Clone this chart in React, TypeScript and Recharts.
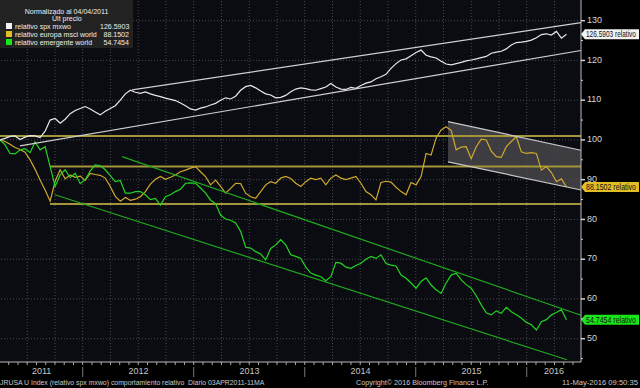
import { ComposedChart, Line, Area, XAxis, YAxis, ReferenceLine, ReferenceDot, CartesianGrid } from 'recharts';

const FONT = '"Liberation Sans Narrow", "Arial Narrow", "Liberation Sans", sans-serif';

// relative performance, normalised to 100 on 04/04/2011, evenly sampled up to 11/05/2016
const spx = [
  100.0, 100.4, 100.9, 101.0, 100.1, 100.7, 101.1, 101.0, 100.6, 102.2,
  105.0, 105.4, 104.2, 105.2, 106.6, 107.4, 107.9, 108.4, 107.8, 107.0,
  106.3, 107.2, 107.9, 108.6, 110.0, 111.6, 112.5, 112.0, 111.7, 112.1,
  111.6, 111.2, 110.9, 110.5, 110.2, 109.9, 109.3, 108.6, 107.8, 107.5,
  108.0, 108.3, 108.8, 109.2, 110.0, 110.6, 110.3, 111.0, 112.5, 113.4,
  113.7, 113.1, 112.3, 111.6, 111.3, 110.6, 110.7, 111.2, 112.1, 112.8,
  113.1, 112.9, 112.6, 112.5, 112.9, 113.3, 114.2, 113.3, 112.8, 112.7,
  113.2, 113.0, 113.7, 114.3, 114.6, 115.4, 115.9, 116.5, 118.0, 119.2,
  120.1, 120.4, 121.2, 122.0, 122.6, 121.3, 120.9, 120.6, 119.8, 119.1,
  118.9, 119.2, 119.5, 119.9, 120.1, 120.4, 120.7, 121.0, 121.8, 122.1,
  122.3, 122.9, 123.9, 124.5, 124.6, 124.8, 125.1, 125.7, 126.5, 126.7,
  126.4, 127.3, 125.6, 126.5903,
];

const europa = [
  100.0, 99.6, 98.9, 98.1, 97.6, 96.9, 95.0, 92.6, 89.9, 87.4,
  84.6, 89.6, 92.5, 90.2, 91.2, 90.6, 90.9, 89.8, 91.6, 91.3,
  91.1, 90.4, 88.3, 85.8, 84.6, 85.5, 84.8, 85.1, 85.7, 87.0,
  88.9, 90.1, 90.8, 90.1, 90.6, 91.2, 92.0, 92.4, 92.9, 93.3,
  92.0, 90.8, 88.7, 89.9, 88.3, 86.6, 87.8, 89.1, 89.0, 86.6,
  85.7, 85.3, 87.0, 88.7, 89.5, 89.1, 90.4, 90.8, 90.3, 89.1,
  88.3, 89.5, 90.4, 90.0, 90.4, 88.7, 90.4, 91.2, 90.4, 90.0,
  90.4, 90.8, 89.1, 87.0, 86.2, 84.9, 89.3, 89.6, 89.4, 88.1,
  87.0, 86.2, 89.3, 88.7, 90.8, 96.6, 96.2, 100.5, 102.5, 103.3,
  102.4, 97.5, 98.2, 98.3, 95.3, 98.3, 100.2, 100.0, 97.2, 95.8,
  95.6, 98.3, 99.6, 100.8, 97.0, 96.6, 96.8, 96.6, 92.4, 93.3,
  91.8, 89.5, 90.2, 88.1502,
];

const emergente = [
  100.0, 98.8, 96.6, 96.5, 97.5, 97.8, 96.8, 99.5, 97.5, 98.3,
  93.3, 88.3, 91.2, 92.5, 90.5, 91.6, 89.0, 90.0, 92.2, 93.7,
  93.5, 92.5, 91.0, 89.5, 89.8, 86.6, 86.6, 87.0, 87.0, 86.2,
  85.0, 85.3, 83.6, 85.7, 86.2, 87.0, 87.6, 89.1, 89.2, 89.1,
  87.9, 86.6, 84.9, 84.0, 81.1, 80.1, 79.8, 79.1, 77.0, 73.0,
  72.8, 71.9, 71.3, 69.8, 72.7, 73.6, 74.9, 73.6, 71.1, 70.7,
  70.2, 68.0, 66.5, 66.0, 65.6, 64.6, 65.6, 69.2, 69.0, 68.0,
  67.7, 68.4, 69.0, 70.0, 70.7, 70.2, 71.1, 68.9, 68.5, 68.3,
  66.0, 65.2, 64.0, 62.7, 64.4, 65.3, 63.5, 62.3, 61.4, 64.0,
  66.0, 66.5, 64.8, 63.6, 62.7, 60.8, 58.5, 56.5, 56.0, 57.0,
  56.4, 57.9, 56.8, 56.0, 55.2, 54.1, 53.5, 52.2, 54.3, 54.8,
  56.0, 56.6, 57.3, 54.7454,
];

const seriesKeys = ['spx', 'europa', 'emergente'];
const seriesNames = ['relativo spx mxwo', 'relativo europa msci world', 'relativo emergente world'];
const lastValues = ['126.5903', '88.1502', '54.7454'];
const tagTexts = ['126.5903 relativo', '88.1502  relativo', '54.7454  relativo'];
const seriesColors = ['#e8e8e8', '#cfa92e', '#22d422'];
const tagColors = ['#f2f2f2', '#e3bd24', '#19e619'];

const firstDay = 2011.2548; // 04/04/2011
const lastDay = 2016.358; // 11/05/2016
const xMax = 2016.489;
const yMin = 44.14;
const yMax = 135.2;

const yearLabels = [2011, 2012, 2013, 2014, 2015, 2016];
const yLabels = [50, 60, 70, 80, 90, 100, 110, 120, 130];

// lines drawn on the terminal, as [date, value] end points
const spxChannel = [
  [[2012.444, 112.6], [xMax, 129.5]],
  [[2011.435, 98.5], [xMax, 122.5]],
];
const emergenteChannel = [
  [[2012.354, 95.8], [xMax, 55.9]],
  [[2011.75, 86.2], [2016.363, 44.7]],
];
const europaLevels = [
  { from: firstDay, y: 101.0 },
  { from: 2011.705, y: 93.3 },
  { from: 2011.705, y: 83.9 },
];
const europaBand = [
  { t: 2015.291, band: [94.5, 104.6] },
  { t: xMax, band: [87.4, 97.4] },
];

const rows = spx.map((v, i) => ({
  t: firstDay + (i * (lastDay - firstDay)) / (spx.length - 1),
  spx: v,
  europa: europa[i],
  emergente: emergente[i],
}));

const monthTicks: number[] = [];
const quarterLines: number[] = [];
for (let y = 2011; y <= 2016; y++) {
  for (let m = 0; m < 12; m++) {
    const t = y + m / 12;
    if (t <= firstDay || t >= xMax) continue;
    monthTicks.push(t);
    if (m % 3 === 0) quarterLines.push(t);
  }
}
const labelAt = new Map<number, string>();
yearLabels.forEach(y => {
  const mid = (Math.max(y, firstDay) + Math.min(y + 1, xMax)) / 2 + 0.002;
  labelAt.set(mid, String(y));
});
const xTicks = [...monthTicks, ...labelAt.keys()];
const yTicks: number[] = [];
for (let v = 45; v <= 130; v += 5) yTicks.push(v);

function XTick(props: any) {
  const { x, y, payload } = props;
  const v = payload.value;
  const label = labelAt.get(v);
  if (label) {
    return (
      <text x={x} y={y + 12} textAnchor="middle" fill="#c4c4c4" fontSize={9} fontFamily={FONT}>
        {label}
      </text>
    );
  }
  const jan = Math.abs(v - Math.round(v)) < 1e-6;
  return (
    <g>
      <line x1={x} x2={x} y1={y} y2={y + 3} stroke="#aaa" />
      {jan && <line x1={x} x2={x} y1={y + 5} y2={y + 15} stroke="#777" />}
    </g>
  );
}

function YTick(props: any) {
  const { x, y, payload } = props;
  const v = payload.value;
  const major = v % 10 === 0;
  return (
    <g>
      <line x1={x} x2={x + (major ? 4 : 2)} y1={y} y2={y} stroke="#d0d0d0" strokeWidth={major ? 1.5 : 1} />
      {major && (
        <text x={x + 6} y={y - 1} dy="0.35em" fill="#d6d6d6" fontSize={9} fontFamily={FONT}>
          {v}
        </text>
      )}
    </g>
  );
}

function Tag({ cx, cy, text, bg }: any) {
  return (
    <g>
      <path d={`M${cx} ${cy} L${cx + 4} ${cy - 5} L${cx + 58} ${cy - 5} L${cx + 58} ${cy + 5} L${cx + 4} ${cy + 5} Z`} fill={bg} />
      <text x={cx + 5} y={cy} dy="0.35em" fontSize={8.5} fill="#111" fontFamily={FONT} textLength={50} lengthAdjust="spacingAndGlyphs">
        {text}
      </text>
    </g>
  );
}

const narrow = (origin: string, k = 0.84): React.CSSProperties => ({
  display: 'inline-block',
  transform: `scaleX(${k})`,
  transformOrigin: origin,
});

const legendTops = [7.5, 14.8, 22.5, 30.5, 38.8];

function App() {
  return (
    <div style={{ position: 'relative', width: 640, height: 388, background: '#000', overflow: 'hidden' }}>
      <style>{'body{margin:0;background:#000}'}</style>
      <ComposedChart width={640} height={388} data={rows} margin={{ top: 0, right: 0, bottom: 0, left: 0 }}>
        <CartesianGrid horizontal={false} vertical={false} fill="#0b0b12" />
        <XAxis
          type="number"
          dataKey="t"
          domain={[firstDay, xMax]}
          ticks={xTicks}
          interval={0}
          tick={<XTick />}
          tickLine={false}
          tickSize={0}
          tickMargin={0}
          axisLine={{ stroke: '#bbb' }}
          height={26}
          allowDataOverflow
        />
        <YAxis
          orientation="right"
          type="number"
          domain={[yMin, yMax]}
          ticks={yTicks}
          interval={0}
          tick={<YTick />}
          tickLine={false}
          tickSize={0}
          tickMargin={0}
          axisLine={{ stroke: '#bbb' }}
          width={59}
          allowDataOverflow
        />
        {yLabels.map(v => (
          <ReferenceLine key={'h' + v} y={v} stroke="#4a4a52" strokeDasharray="1 2" />
        ))}
        {quarterLines.map(t => (
          <ReferenceLine key={'v' + t} x={t} stroke="#4a4a52" strokeDasharray="1 2" />
        ))}
        <Area
          data={europaBand}
          dataKey="band"
          type="linear"
          fill="#9a9a9a"
          fillOpacity={0.35}
          stroke="none"
          isAnimationActive={false}
        />
        {europaLevels.map((l, i) => (
          <ReferenceLine key={'l' + i} segment={[{ x: l.from, y: l.y }, { x: xMax, y: l.y }]} stroke="#a3963a" strokeWidth={2} />
        ))}
        <Line dataKey="europa" stroke={seriesColors[1]} strokeWidth={1.2} dot={false} isAnimationActive={false} />
        <Line dataKey="emergente" stroke={seriesColors[2]} strokeWidth={1.2} dot={false} isAnimationActive={false} />
        <Line dataKey="spx" stroke={seriesColors[0]} strokeWidth={1.2} dot={false} isAnimationActive={false} />
        {[0, 1].map(k => (
          <ReferenceLine
            key={'b' + k}
            segment={[{ x: europaBand[0].t, y: europaBand[0].band[k] }, { x: europaBand[1].t, y: europaBand[1].band[k] }]}
            stroke="#c8c8c8"
            strokeWidth={1.2}
          />
        ))}
        {spxChannel.map((s, i) => (
          <ReferenceLine key={'s' + i} segment={[{ x: s[0][0], y: s[0][1] }, { x: s[1][0], y: s[1][1] }]} stroke="#cfcfcf" strokeWidth={1.2} />
        ))}
        {emergenteChannel.map((s, i) => (
          <ReferenceLine key={'e' + i} segment={[{ x: s[0][0], y: s[0][1] }, { x: s[1][0], y: s[1][1] }]} stroke="#1fa81f" strokeWidth={1.2} />
        ))}
        {seriesKeys.map((k, i) => (
          <ReferenceDot
            key={'tag' + k}
            x={xMax}
            y={Number(lastValues[i])}
            ifOverflow="visible"
            shape={(p: any) => <Tag cx={p.cx} cy={p.cy} bg={tagColors[i]} text={tagTexts[i]} />}
          />
        ))}
      </ComposedChart>

      {/* legend box */}
      <div style={{ position: 'absolute', left: 0, top: 0, width: 133, height: 48, background: 'rgba(36,36,36,0.95)', fontFamily: FONT, fontSize: 8, color: '#eee', lineHeight: '7px', whiteSpace: 'nowrap' }}>
        <div style={{ position: 'absolute', top: legendTops[0], width: '100%', textAlign: 'center' }}>
          <span style={narrow('center', 0.88)}>Normalizado al 04/04/2011</span>
        </div>
        <div style={{ position: 'absolute', top: legendTops[1], width: '100%', textAlign: 'center' }}>
          <span style={narrow('center', 0.88)}>Últ precio</span>
        </div>
        {seriesNames.map((n, i) => (
          <div key={n} style={{ position: 'absolute', top: legendTops[i + 2], left: 0, width: 133, height: 7 }}>
            <span style={{ position: 'absolute', left: 6, top: 0.5, width: 6, height: 6, background: tagColors[i] }} />
            <span style={{ position: 'absolute', left: 15, ...narrow('left', 0.88) }}>{n}</span>
            <span style={{ position: 'absolute', right: 4, ...narrow('right', 0.88) }}>{lastValues[i]}</span>
          </div>
        ))}
      </div>

      {/* footer */}
      <div style={{ position: 'absolute', left: 0, top: 377, width: 640, height: 11, fontFamily: FONT, fontSize: 8, color: '#c8c8c8', lineHeight: '11px', whiteSpace: 'pre' }}>
        <span style={{ position: 'absolute', left: 0, ...narrow('left', 0.86) }}>JRUSA U Index (relativo spx mxwo) comportamiento relativo  Diario 03APR2011-11MA</span>
        <span style={{ position: 'absolute', left: 356, ...narrow('left', 0.9) }}>Copyright© 2016 Bloomberg Finance L.P.</span>
        <span style={{ position: 'absolute', right: 2, ...narrow('right', 0.95) }}>11-May-2016 09:50:35</span>
      </div>
    </div>
  );
}

export default App;
